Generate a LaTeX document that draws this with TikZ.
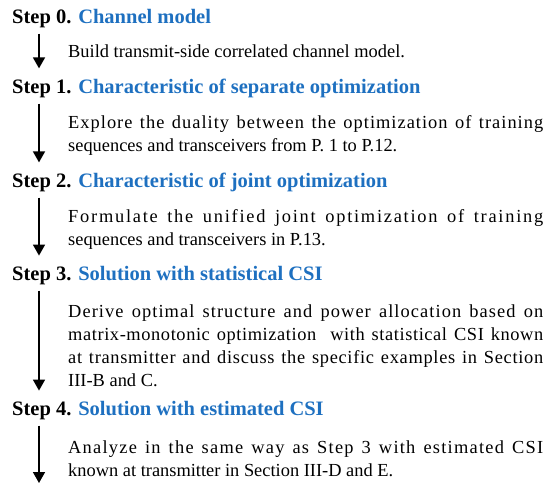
\documentclass[tikz,border=0pt]{standalone}
\usepackage{fontspec}
\setmainfont{Liberation Serif}
\usetikzlibrary{arrows.meta}
\definecolor{stepblue}{RGB}{30,112,192}
\newcommand{\spacedline}[2]{{\addfontfeature{LetterSpace=#1}#2}\linebreak}
\begin{document}
\begin{tikzpicture}[x=1pt,y=1pt,
    steptitle/.style={anchor=base west, inner sep=0pt, font=\fontsize{20.5}{24}\selectfont\bfseries},
    stepdesc/.style={anchor=base west, inner sep=0pt, text width=475pt, align=justify, font=\fontsize{18.4}{23.3}\selectfont},
    flow/.style={line width=1.6pt, -{Triangle[width=12pt,length=11pt]}}]
    \useasboundingbox (0,0) rectangle (548,-483);

    % Step 0
    \node[steptitle] (step0) at (12,-23) {Step 0. \textcolor{stepblue}{Channel model}};
    \node[stepdesc] (desc0) at (68,-57) {Build transmit-side correlated channel model.};

    % Step 1
    \node[steptitle] (step1) at (12,-93) {Step 1. \textcolor{stepblue}{Characteristic of separate optimization}};
    \node[stepdesc] (desc1) at (68,-128) {\spacedline{5.5}{Explore the duality between the optimization of training} sequences and transceivers from P. 1 to P.12.};

    % Step 2
    \node[steptitle] (step2) at (12,-187) {Step 2. \textcolor{stepblue}{Characteristic of joint optimization}};
    \node[stepdesc] (desc2) at (68,-222) {\spacedline{9.5}{Formulate the unified joint optimization of training} sequences and transceivers in P.13.};

    % Step 3
    \node[steptitle] (step3) at (12,-280) {Step 3. \textcolor{stepblue}{Solution with statistical CSI}};
    \node[stepdesc] (desc3) at (68,-317) {\spacedline{5.8}{Derive optimal structure and power allocation based on}
        \spacedline{3.2}{matrix-monotonic optimization\ \ with statistical CSI known}
        \spacedline{3.8}{at transmitter and discuss the specific examples in Section}
        III-B and C.};

    % Step 4
    \node[steptitle] (step4) at (12,-415) {Step 4. \textcolor{stepblue}{Solution with estimated CSI}};
    \node[stepdesc] (desc4) at (68,-453) {\spacedline{6.8}{Analyze in the same way as Step 3 with estimated CSI} known at transmitter in Section III-D and E.};
    \coordinate (bottom) at (39,-483);

    % Flèches
    \draw[flow] ([xshift=27pt,yshift=-6pt]step0.south west) -- ([xshift=27pt,yshift=10pt]step1.north west);
    \draw[flow] ([xshift=27pt,yshift=-6pt]step1.south west) -- ([xshift=27pt,yshift=10pt]step2.north west);
    \draw[flow] ([xshift=27pt,yshift=-6pt]step2.south west) -- ([xshift=27pt,yshift=10pt]step3.north west);
    \draw[flow] ([xshift=27pt,yshift=-6pt]step3.south west) -- ([xshift=27pt,yshift=10pt]step4.north west);
    \draw[flow] ([xshift=27pt,yshift=-6pt]step4.south west) -- (bottom);
\end{tikzpicture}
\end{document}
